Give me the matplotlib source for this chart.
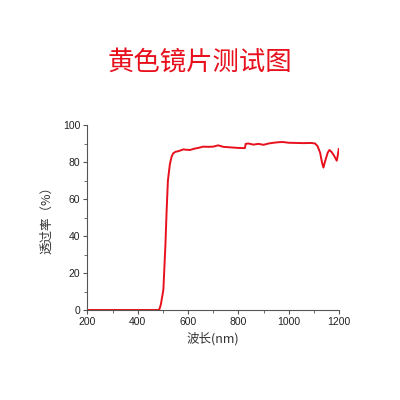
import matplotlib
matplotlib.use("Agg")
import matplotlib.pyplot as plt
from matplotlib.ticker import MultipleLocator

plt.rcParams['font.family'] = ['Noto Sans CJK SC', 'DejaVu Sans']

# Transmittance curve.
wavelength = [200, 300, 400, 480, 486, 492, 502, 510, 515, 520, 528, 535, 541,
              550, 565, 581, 595, 608, 625, 640, 661, 680, 700, 720, 740, 760,
              780, 800, 826, 829, 840, 860, 880, 900, 920, 940, 960, 977, 1000,
              1030, 1060, 1090, 1105, 1115, 1125, 1132, 1138, 1145, 1155, 1162,
              1170, 1180, 1191, 1195, 1199]
transmit = [0, 0, 0, 0, 0.3, 3, 11, 35, 54, 70, 79, 83, 84.7,
            85.5, 86, 86.8, 86.6, 86.5, 87.2, 87.6, 88.3, 88.2, 88.3, 89, 88.2, 88,
            87.8, 87.6, 87.5, 89.8, 90, 89.4, 89.8, 89.3, 90, 90.4, 90.7, 90.8, 90.4,
            90.3, 90.2, 90.3, 90, 88.5, 85, 80, 77, 80.5, 85, 86.5,
            85.5, 83.5, 80.7, 83.5, 87]

fig = plt.figure(figsize=(4, 4), dpi=100)
ax = fig.add_axes([0.2185, 0.225, 0.629, 0.4625])
ax.plot(wavelength, transmit, color="#e8101c", lw=1.4)

ax.set_xlim(200, 1200)
ax.set_ylim(0, 100)
ax.xaxis.set_major_locator(MultipleLocator(200))
ax.xaxis.set_minor_locator(MultipleLocator(100))
ax.yaxis.set_major_locator(MultipleLocator(20))
ax.yaxis.set_minor_locator(MultipleLocator(10))
ax.spines["top"].set_visible(False)
ax.spines["right"].set_visible(False)
for s in ("left", "bottom"):
    ax.spines[s].set_color("#555555")
    ax.spines[s].set_linewidth(0.8)
ax.tick_params(which="major", length=3, width=0.8, color="#555555", labelsize=7.5,
               pad=2, labelcolor="#222222", labelfontfamily="Liberation Sans")
ax.tick_params(which="minor", length=2, width=0.6, color="#555555")

ax.set_xlabel("波长(nm)", fontsize=9, color="#333333", labelpad=4)
ax.set_ylabel("透过率（%）", fontsize=9, color="#333333", labelpad=7)

fig.text(0.5, 0.845, "黄色镜片测试图", color="#e8101c", fontsize=19,
         ha="center", va="center")

fig.savefig("out.png", dpi=100, facecolor="white")
